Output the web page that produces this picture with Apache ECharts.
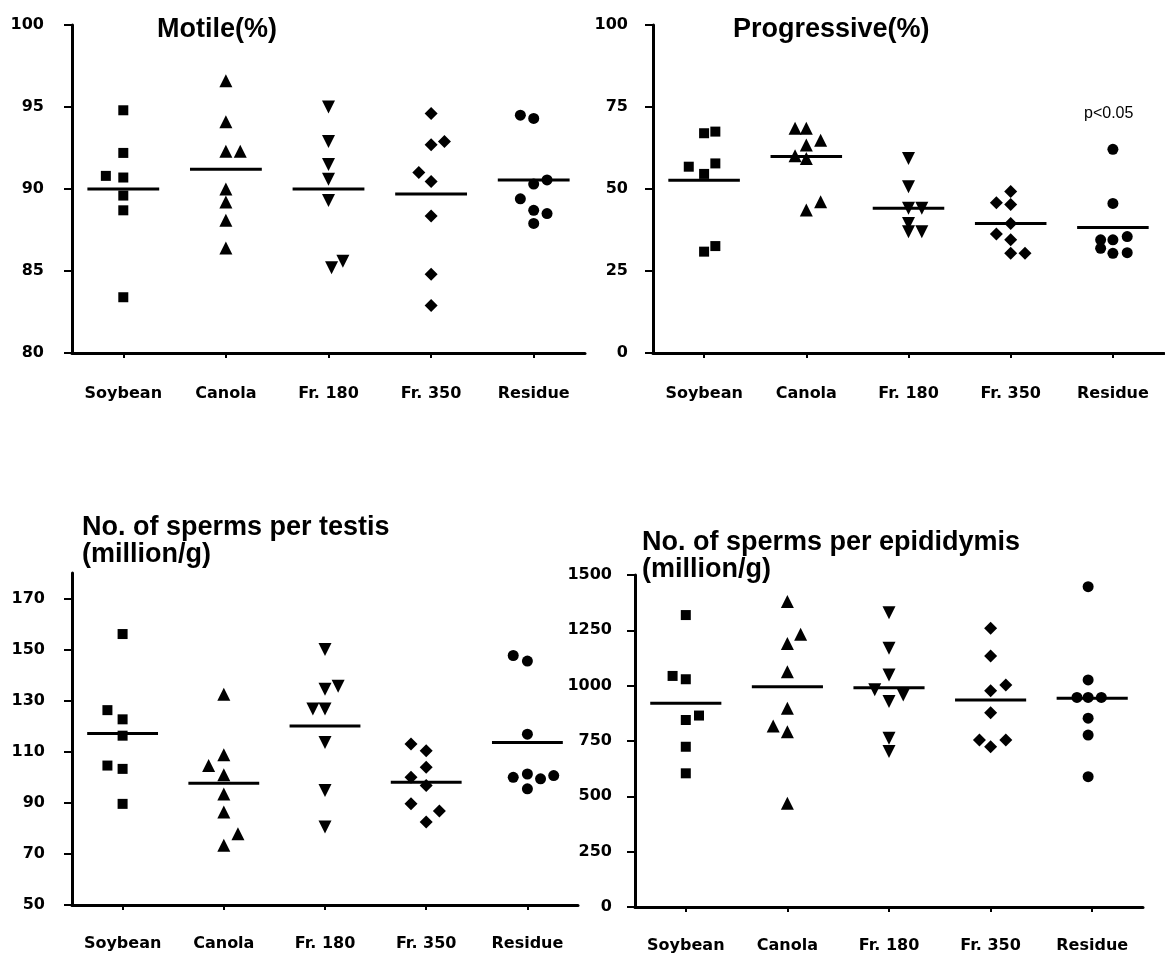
<!DOCTYPE html>
<html><head><meta charset="utf-8">
<script src="https://cdn.jsdelivr.net/npm/echarts@6/dist/echarts.min.js"></script>
<style>html,body{margin:0;padding:0;background:#fff}#c{width:1165px;height:957px}</style>
</head><body><div id="c"></div>
<script>
const categories = ['Soybean', 'Canola', 'Fr. 180', 'Fr. 350', 'Residue'];

// Motile (%)
const motileValues = [
  [94.8, 92.2, 90.8, 90.7, 89.6, 88.7, 83.4],
  [96.6, 94.1, 92.3, 92.3, 90.0, 89.2, 88.1, 86.4],
  [95.0, 92.9, 91.5, 90.6, 89.3, 85.2, 85.6],
  [94.6, 92.7, 92.9, 91.0, 90.45, 88.35, 84.8, 82.9],
  [94.5, 94.3, 90.55, 90.3, 89.4, 88.7, 88.5, 87.9]
];
const motileJitter = [
  [0, 0, -0.17, 0, 0, 0, 0],
  [0, 0, 0, 0.14, 0, 0, 0, 0],
  [0, 0, 0, 0, 0, 0.03, 0.14],
  [0, 0, 0.13, -0.12, 0, 0, 0, 0],
  [-0.13, 0, 0.13, 0, -0.13, 0, 0.13, 0]
];
const motileMeans = [90.0, 91.2, 90.0, 89.7, 90.55];
const motileTicks = [80, 85, 90, 95, 100];

// Progressive (%)
const progValues = [
  [67.0, 67.5, 56.8, 57.8, 54.6, 30.9, 32.6],
  [68.5, 68.5, 64.9, 63.4, 60.1, 59.3, 43.6, 46.1],
  [59.3, 50.7, 44.1, 44.1, 39.5, 37.0, 37.0],
  [49.2, 45.8, 45.3, 39.5, 36.3, 34.5, 30.4, 30.4],
  [62.1, 45.6, 34.5, 34.5, 35.5, 31.9, 30.4, 30.6]
];
const progJitter = [
  [0, 0.11, -0.15, 0.11, 0, 0, 0.11],
  [-0.11, 0, 0.14, 0, -0.11, 0, 0, 0.14],
  [0, 0, 0, 0.13, 0, 0, 0.13],
  [0, -0.14, 0, 0, -0.14, 0, 0, 0.14],
  [0, 0, -0.12, 0, 0.14, -0.12, 0, 0.14]
];
const progMeans = [52.7, 59.9, 44.1, 39.5, 38.3];
const progTicks = [0, 25, 50, 75, 100];

// No. of sperms per testis (million/g)
const testisValues = [
  [156.1, 126.3, 122.7, 116.3, 104.6, 103.3, 89.6],
  [132.5, 108.8, 104.6, 101.0, 93.5, 86.4, 77.9, 73.4],
  [150.0, 134.5, 135.7, 126.7, 126.7, 113.6, 94.8, 80.5],
  [113.0, 110.4, 103.9, 100.0, 96.8, 89.6, 86.8, 82.5],
  [147.7, 145.5, 116.9, 100.0, 101.3, 99.4, 100.7, 95.5]
];
const testisJitter = [
  [0, -0.15, 0, 0, -0.15, 0, 0],
  [0, 0, -0.15, 0, 0, 0, 0.14, 0],
  [0, 0, 0.13, -0.12, 0, 0, 0, 0],
  [-0.15, 0, 0, -0.15, 0, -0.15, 0.13, 0],
  [-0.14, 0, 0, -0.14, 0, 0.13, 0.26, 0]
];
const testisMeans = [117.2, 97.7, 120.1, 98.1, 113.6];
const testisTicks = [50, 70, 90, 110, 130, 150, 170];

// No. of sperms per epididymis (million/g)
const epiValues = [
  [1319, 1044, 1029, 845, 865, 724, 604],
  [1380, 1191, 1232, 1063, 898, 818, 792, 469],
  [1330, 1169, 1048, 981, 928, 958, 762, 702],
  [1259, 1134, 977, 1003, 878, 755, 724, 755],
  [1447, 1026, 947, 947, 947, 853, 777, 589]
];
const epiJitter = [
  [0, -0.13, 0, 0, 0.13, 0, 0],
  [0, 0, 0.13, 0, 0, -0.14, 0, 0],
  [0, 0, 0, -0.14, 0, 0.14, 0, 0],
  [0, 0, 0, 0.15, 0, -0.11, 0, 0.15],
  [-0.04, -0.04, -0.15, -0.04, 0.09, -0.04, -0.04, -0.04]
];
const epiMeans = [920, 995, 991, 935, 943];
const epiTicks = [0, 250, 500, 750, 1000, 1250, 1500];

const panels = [
  { values: motileValues, jitter: motileJitter, means: motileMeans, ticks: motileTicks, min: 80, max: 100,
    grid: { left: 72, top: 25, width: 513, height: 328 }, yMargin: 28, xMargin: 33 },
  { values: progValues, jitter: progJitter, means: progMeans, ticks: progTicks, min: 0, max: 100,
    grid: { left: 653, top: 25, width: 511, height: 328 }, yMargin: 25, xMargin: 33 },
  { values: testisValues, jitter: testisJitter, means: testisMeans, ticks: testisTicks, min: 50, max: 180,
    grid: { left: 72, top: 573, width: 506, height: 332 }, yMargin: 27, xMargin: 31 },
  { values: epiValues, jitter: epiJitter, means: epiMeans, ticks: epiTicks, min: 0, max: 1500,
    grid: { left: 635, top: 575, width: 508, height: 332 }, yMargin: 23, xMargin: 31 }
];

const symbols = [
  { symbol: 'rect', size: 10, rotate: 0 },
  { symbol: 'triangle', size: 13, rotate: 0 },
  { symbol: 'triangle', size: 13, rotate: 180 },
  { symbol: 'diamond', size: 13, rotate: 0 },
  { symbol: 'circle', size: 11, rotate: 0 }
];

const labelFont = { fontFamily: 'DejaVu Sans', fontWeight: 'bold', fontSize: 16, color: '#000' };
const titleFont = { fontFamily: 'Liberation Sans', fontWeight: 'bold', fontSize: 27, color: '#000', lineHeight: 27 };

const grid = [], xAxis = [], yAxis = [], series = [];
panels.forEach((p, k) => {
  grid.push(p.grid);
  xAxis.push({
    type: 'category', gridIndex: k, data: categories, boundaryGap: true, position: 'bottom',
    axisLine: { show: true, onZero: false, lineStyle: { color: '#000', width: 3 } },
    axisTick: { show: true, alignWithLabel: true, length: 5, lineStyle: { color: '#000', width: 2 } },
    axisLabel: Object.assign({ margin: p.xMargin, interval: 0 }, labelFont),
    splitLine: { show: false }
  });
  xAxis.push({ type: 'value', gridIndex: k, min: -0.5, max: 4.5, show: false, position: 'bottom',
    axisLine: { onZero: false } });
  yAxis.push({
    type: 'value', gridIndex: k, min: p.min, max: p.max, position: 'left',
    axisLine: { show: true, onZero: false, lineStyle: { color: '#000', width: 3 } },
    axisTick: { show: true, length: 8, customValues: p.ticks, lineStyle: { color: '#000', width: 2 } },
    axisLabel: Object.assign({ margin: p.yMargin, customValues: p.ticks, formatter: v => String(v) }, labelFont),
    splitLine: { show: false }
  });
  p.values.forEach((vals, i) => {
    const s = symbols[i];
    series.push({
      type: 'scatter', xAxisIndex: 2 * k + 1, yAxisIndex: k,
      symbol: s.symbol, symbolSize: s.size, symbolRotate: s.rotate,
      itemStyle: { color: '#000', opacity: 1 }, silent: true, z: 3,
      data: vals.map((v, j) => [i + p.jitter[i][j], v])
    });
    series.push({
      type: 'line', xAxisIndex: 2 * k + 1, yAxisIndex: k, symbol: 'none', silent: true, z: 2,
      lineStyle: { color: '#000', width: 3 },
      data: [[i - 0.35, p.means[i]], [i + 0.35, p.means[i]]]
    });
  });
});

const title = [
  { text: 'Motile(%)', left: 152, top: 11, textStyle: titleFont },
  { text: 'Progressive(%)', left: 728, top: 11, textStyle: titleFont },
  { text: 'No. of sperms per testis\n(million/g)', left: 77, top: 509, textStyle: titleFont },
  { text: 'No. of sperms per epididymis\n(million/g)', left: 637, top: 524, textStyle: titleFont },
  { text: 'p<0.05', left: 1079, top: 101,
    textStyle: { fontFamily: 'Liberation Sans', fontWeight: 'normal', fontSize: 16, color: '#000' } }
];

const chart = echarts.init(document.getElementById('c'));
chart.setOption({ animation: false, backgroundColor: '#fff', title, grid, xAxis, yAxis, series });
</script>
</body></html>
